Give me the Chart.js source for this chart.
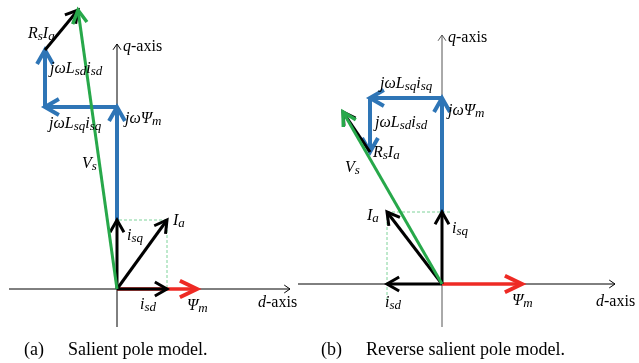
<!DOCTYPE html>
<html><head><meta charset="utf-8">
<script src="https://cdn.jsdelivr.net/npm/chart.js@4"></script>
<style>html,body{margin:0;padding:0;background:#fff;}canvas{display:block}</style>
</head><body>
<canvas id="c" width="639" height="363"></canvas>
<script>
// ---------- DATA (vector components in d/q units) ----------
// Panel (a): salient pole model
const aIsd      = [50, 0];
const aIsq      = [0, 69];
const aPsiM     = [80, 0];
const aJwPsiM   = [0, 113];
const aJwLsqIsq = [-72, 0];
const aJwLsdIsd = [0, 57];
const aRsIa     = [33, 40];
// Panel (b): reverse salient pole model
const bIsd      = [-55, 0];
const bIsq      = [0, 72];
const bPsiM     = [80, 0];
const bJwPsiM   = [0, 114];
const bJwLsqIsq = [-72, 0];
const bJwLsdIsd = [0, -54];
const bRsIa     = [-27, 40];
// axis extents [dMin, dMax, qMin, qMax]
const aAxisRange = [-108, 173, -38, 245];
const bAxisRange = [-144, 173, -43, 249];
// projection-line ends [d end of horizontal, q end of vertical]
const aProjEnds = [0, 0];
const bProjEnds = [8, -18];
// labels
const captions = ["(a)", "Salient pole model.", "(b)", "Reverse salient pole model."];

// ---------- LAYOUT ----------
const W = 639, H = 363;
const originA = {x: 117, y: H - 289};
const originB = {x: 442, y: H - 284};

const C = {
  blue: '#2e75b6', green: '#27a84a', red: '#ee2a24', black: '#000000',
  dash: '#7fd39a', axis: '#000000', axisB: '#555555'
};

const layers = []; // bottom to top
function add(o, v0, v1, style) {
  layers.push(Object.assign({
    data: [{x: o.x + v0[0], y: o.y + v0[1]}, {x: o.x + v1[0], y: o.y + v1[1]}],
    showLine: true, pointRadius: 0, pointHoverRadius: 0, fill: false,
    borderCapStyle: 'butt'
  }, style));
}
function addv(a, b) { return [a[0] + b[0], a[1] + b[1]]; }

function buildPanel(o, isd, isq, psi, jwPsi, jwLsq, jwLsd, rsia, range, proj, axisColorQ) {
  const Z = [0, 0];
  const ia = addv(isd, isq);
  // axes
  add(o, [range[0], 0], [range[1], 0], {borderColor: C.axis, borderWidth: 1, arrow: {len: 7, ang: 0.6, w: 1, color: C.axis}});
  add(o, [0, range[2]], [0, range[3]], {borderColor: axisColorQ, borderWidth: 1, arrow: {len: 7, ang: 0.6, w: 1, color: axisColorQ}});
  // dashed projection lines
  const dashStyle = {borderColor: C.dash, borderWidth: 1, borderDash: [3, 2]};
  add(o, ia, [proj[0], ia[1]], dashStyle);
  add(o, ia, [ia[0], proj[1]], dashStyle);
  // flux
  add(o, Z, psi, {borderColor: C.red, borderWidth: 3.5, arrow: {len: 19, ang: 0.45, w: 4, color: C.red}});
  // voltage chain
  const p1 = isq, p2 = addv(p1, jwPsi), p3 = addv(p2, jwLsq), p4 = addv(p3, jwLsd), p5 = addv(p4, rsia);
  const blueArrow = {borderColor: C.blue, borderWidth: 4, arrow: {len: 16, ang: 0.52, w: 4, color: C.blue}};
  add(o, p1, p2, blueArrow);
  add(o, p2, p3, blueArrow);
  add(o, p3, p4, blueArrow);
  // currents
  const blackArrow = {borderColor: C.black, borderWidth: 3, arrow: {len: 14, ang: 0.52, w: 3, color: C.black}};
  add(o, Z, isd, blackArrow);
  add(o, Z, isq, blackArrow);
  add(o, Z, ia, blackArrow);
  add(o, p4, p5, blackArrow);
  // Vs
  add(o, Z, p5, {borderColor: C.green, borderWidth: 3, arrow: {len: 15, ang: 0.5, w: 3.5, color: C.green}});
}
buildPanel(originA, aIsd, aIsq, aPsiM, aJwPsiM, aJwLsqIsq, aJwLsdIsd, aRsIa, aAxisRange, aProjEnds, C.axis);
buildPanel(originB, bIsd, bIsq, bPsiM, bJwPsiM, bJwLsqIsq, bJwLsdIsd, bRsIa, bAxisRange, bProjEnds, C.axisB);
layers.forEach((d, i) => { d.order = layers.length - i; });

// label specs: [panel, dx, dy(baseline, up), parts]; parts: [text, mode] n=italic, s=italic sub, r=roman
const labels = [
  ['a', -89, 251, [['R','n'],['s','s'],['I','n'],['a','s']]],
  ['a', 6, 238, [['q','n'],['-axis','r']]],
  ['a', -67, 216, [['jωL','n'],['sd','s'],['i','n'],['sd','s']]],
  ['a', -68, 161, [['jωL','n'],['sq','s'],['i','n'],['sq','s']]],
  ['a', 8, 166, [['jωΨ','n'],['m','s']]],
  ['a', -35, 121, [['V','n'],['s','s']]],
  ['a', 10, 49, [['i','n'],['sq','s']]],
  ['a', 56, 64, [['I','n'],['a','s']]],
  ['a', 23, -20, [['i','n'],['sd','s']]],
  ['a', 70, -21, [['Ψ','n'],['m','s']]],
  ['a', 141, -18, [['d','n'],['-axis','r']]],
  ['b', 6, 242, [['q','n'],['-axis','r']]],
  ['b', -62, 196, [['jωL','n'],['sq','s'],['i','n'],['sq','s']]],
  ['b', 6, 169, [['jωΨ','n'],['m','s']]],
  ['b', -67, 157, [['jωL','n'],['sd','s'],['i','n'],['sd','s']]],
  ['b', -69, 127, [['R','n'],['s','s'],['I','n'],['a','s']]],
  ['b', -97, 112, [['V','n'],['s','s']]],
  ['b', -75, 64, [['I','n'],['a','s']]],
  ['b', 10, 51, [['i','n'],['sq','s']]],
  ['b', -57, -23, [['i','n'],['sd','s']]],
  ['b', 70, -21, [['Ψ','n'],['m','s']]],
  ['b', 154, -22, [['d','n'],['-axis','r']]]
];

const arrowPlugin = {
  id: 'arrows',
  afterDatasetDraw(chart, args) {
    const ds = chart.data.datasets[args.index];
    if (!ds.arrow) return;
    const pts = args.meta.data;
    const a = pts[0], b = pts[1];
    const ang = Math.atan2(b.y - a.y, b.x - a.x);
    const ctx = chart.ctx, s = ds.arrow;
    ctx.save();
    ctx.strokeStyle = s.color; ctx.lineWidth = s.w;
    ctx.lineCap = 'butt'; ctx.lineJoin = 'miter';
    ctx.beginPath();
    ctx.moveTo(b.x - s.len * Math.cos(ang - s.ang), b.y - s.len * Math.sin(ang - s.ang));
    ctx.lineTo(b.x, b.y);
    ctx.lineTo(b.x - s.len * Math.cos(ang + s.ang), b.y - s.len * Math.sin(ang + s.ang));
    ctx.stroke();
    ctx.restore();
  },
  afterDraw(chart) {
    const ctx = chart.ctx, xs = chart.scales.x, ys = chart.scales.y;
    ctx.save();
    ctx.fillStyle = '#000';
    ctx.textBaseline = 'alphabetic';
    labels.forEach(([k, dx, dy, parts]) => {
      const o = k === 'a' ? originA : originB;
      let x = xs.getPixelForValue(o.x + dx);
      const y = ys.getPixelForValue(o.y + dy);
      parts.forEach(([t, m]) => {
        if (m === 's') { ctx.font = 'italic 13px "Liberation Serif"'; ctx.fillText(t, x, y + 2); }
        else if (m === 'r') { ctx.font = '16px "Liberation Serif"'; ctx.fillText(t, x, y); }
        else { ctx.font = 'italic 16px "Liberation Serif"'; ctx.fillText(t, x, y); }
        x += ctx.measureText(t).width;
      });
    });
    ctx.font = '18px "Liberation Serif"';
    ctx.fillText(captions[0], 24, 355);
    ctx.fillText(captions[1], 68, 355);
    ctx.fillText(captions[2], 321, 355);
    ctx.fillText(captions[3], 366, 355);
    ctx.restore();
  }
};

new Chart(document.getElementById('c'), {
  type: 'scatter',
  data: {datasets: layers},
  options: {
    responsive: false, animation: false, devicePixelRatio: 1,
    layout: {padding: 0},
    plugins: {legend: {display: false}, tooltip: {enabled: false}},
    events: [],
    scales: {
      x: {type: 'linear', min: 0, max: W, display: false},
      y: {type: 'linear', min: 0, max: H, display: false}
    }
  },
  plugins: [arrowPlugin]
});
</script>
</body></html>
